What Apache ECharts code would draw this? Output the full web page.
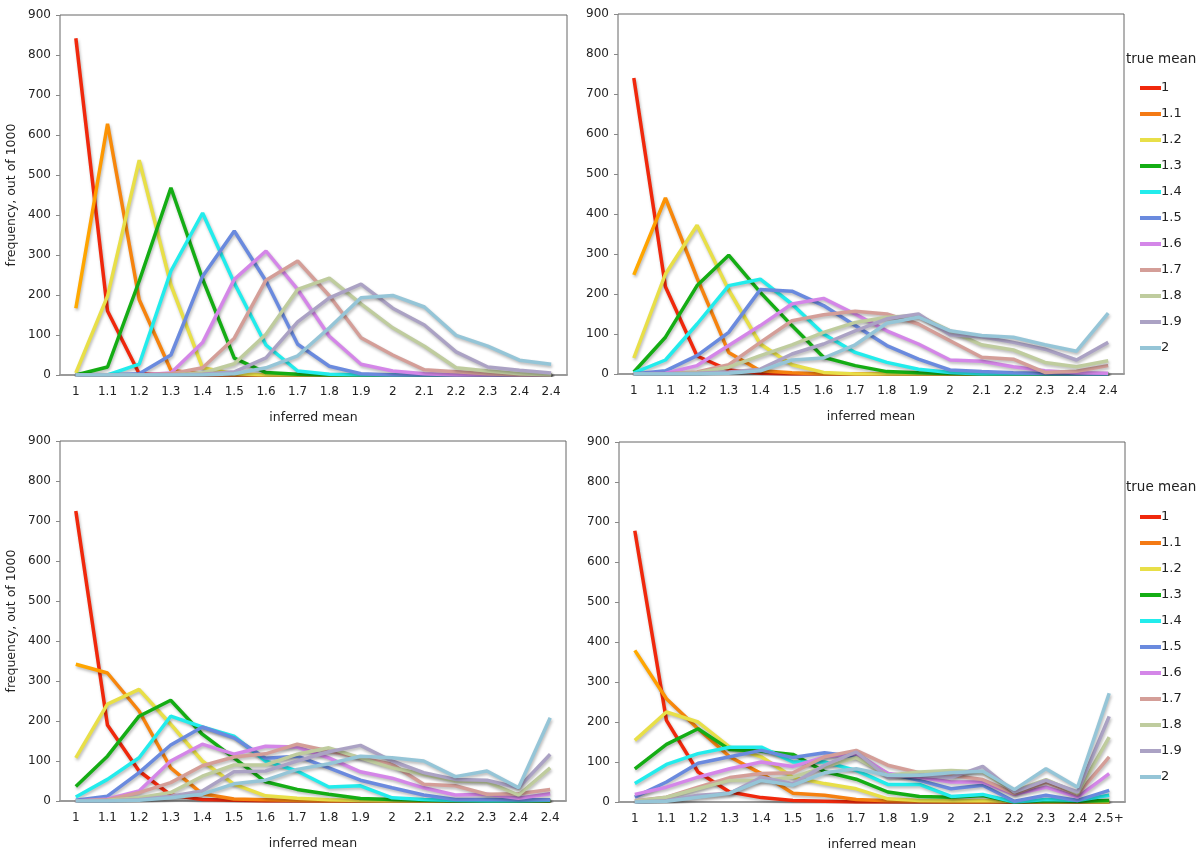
<!DOCTYPE html>
<html>
<head>
<meta charset="utf-8">
<script src="https://cdn.jsdelivr.net/npm/echarts@6/dist/echarts.min.js"></script>
<style>
html,body{margin:0;padding:0;background:#fff;}
#chart{width:1200px;height:856px;}
</style>
</head>
<body>
<div id="chart"></div>
<script>
// ---- data ----
const categoriesA = ['1','1.1','1.2','1.3','1.4','1.5','1.6','1.7','1.8','1.9','2','2.1','2.2','2.3','2.4','2.4'];
const categoriesB = ['1','1.1','1.2','1.3','1.4','1.5','1.6','1.7','1.8','1.9','2','2.1','2.2','2.3','2.4','2.5+'];
const trueMeans = ['1','1.1','1.2','1.3','1.4','1.5','1.6','1.7','1.8','1.9','2'];
const yTicks = [0,100,200,300,400,500,600,700,800,900];

const topLeft = [
[842,160,3,0,0,0,0,0,0,0,0,0,0,0,0,0],
[167,628,188,12,2,0,0,0,0,0,0,0,0,0,0,0],
[5,197,537,225,18,3,0,0,0,0,0,0,0,0,0,0],
[0,20,235,468,240,42,6,2,0,0,0,0,0,0,0,0],
[0,0,27,260,405,230,75,10,2,0,0,0,0,0,0,0],
[0,0,3,50,247,360,235,77,22,3,0,0,0,0,0,0],
[0,0,0,5,81,239,310,214,97,27,10,3,0,0,0,0],
[0,0,0,3,18,92,237,285,198,93,50,13,8,3,0,0],
[0,0,0,0,5,28,102,214,242,178,118,72,18,10,3,0],
[0,0,0,0,2,8,43,133,193,227,167,125,58,20,12,5],
[0,0,0,0,0,3,18,48,118,193,199,170,99,72,37,27]
];
const topRight = [
[740,218,45,10,2,0,0,0,0,0,0,0,0,0,0,0],
[248,440,240,54,8,3,0,0,0,0,0,0,0,0,0,0],
[40,250,372,210,75,23,4,0,0,0,0,0,0,0,0,0],
[5,92,221,297,204,121,42,21,6,3,1,0,0,0,0,0],
[3,35,125,221,237,175,100,54,29,12,4,0,0,0,0,0],
[0,8,46,104,211,207,171,121,71,37,10,6,3,1,0,0],
[0,2,21,71,121,175,189,150,108,75,35,32,18,8,3,2],
[0,0,5,23,79,133,148,157,150,125,83,42,37,4,7,21],
[0,0,3,17,46,73,104,129,142,146,108,73,60,29,18,33],
[0,0,2,5,12,50,75,108,138,150,98,93,79,62,35,79],
[0,0,0,2,8,35,40,73,127,142,108,96,92,73,57,152]
];
const bottomLeft = [
[725,190,75,15,4,2,0,0,0,0,0,0,0,0,0,0],
[342,320,225,83,18,5,3,1,0,0,0,0,0,0,0,0],
[108,242,279,192,100,42,13,7,3,1,0,0,0,0,0,0],
[36,112,212,252,167,108,48,29,17,6,4,2,0,0,0,0],
[10,54,108,212,185,162,100,75,35,38,8,4,1,0,0,2],
[2,12,71,140,185,158,107,112,83,52,33,15,4,4,3,3],
[0,5,25,100,142,117,137,135,108,73,57,33,15,17,7,18],
[0,3,21,46,88,110,118,142,125,108,92,42,38,17,18,29],
[0,2,8,21,62,90,90,117,133,108,83,67,50,48,15,83],
[0,0,3,12,25,73,75,100,123,139,100,71,54,52,33,117],
[0,0,2,8,17,43,52,79,93,112,108,100,61,75,33,208]
];
const bottomRight = [
[678,204,75,25,11,4,2,0,0,0,0,0,0,0,0,0],
[379,258,183,113,71,22,17,6,3,2,0,0,0,0,0,0],
[154,225,200,137,113,62,46,33,8,4,3,4,1,0,0,0],
[83,144,183,131,127,119,76,57,25,14,12,16,0,3,2,4],
[46,94,121,137,137,100,100,79,44,44,14,19,0,6,4,17],
[12,50,97,113,129,111,123,113,71,54,33,42,2,17,4,29],
[19,37,62,83,100,89,113,121,71,62,50,50,19,37,12,71],
[3,12,37,61,71,73,113,129,92,73,67,56,21,50,19,113],
[2,12,33,54,54,62,88,111,67,75,79,75,27,56,22,162],
[0,3,17,22,62,46,92,125,62,67,61,89,25,54,25,214],
[0,2,12,22,54,42,73,83,67,67,73,77,31,83,37,272]
];

// ---- styles ----
const colors = ['#f0280c','#f47a14','#e8df48','#14ad14','#22ecec','#6a8ade','#d486e8','#d49e98','#bfcc9e','#aba2c4','#95c5d7'];
const FONT = 'DejaVu Sans';
const panels = [
  {data: topLeft, cats: categoriesA, grid: {left:60, top:15, width:507, height:360}, yName: true},
  {data: topRight, cats: categoriesA, grid: {left:618, top:14, width:506, height:360}, yName: false},
  {data: bottomLeft, cats: categoriesA, grid: {left:60, top:441, width:506, height:360}, yName: true},
  {data: bottomRight, cats: categoriesB, grid: {left:619, top:442, width:506, height:360}, yName: false}
];

const chart = echarts.init(document.getElementById('chart'), null, {renderer:'canvas'});

const grid = [], xAxis = [], yAxis = [], series = [];
panels.forEach((p, i) => {
  grid.push(Object.assign({show:true, borderColor:'#666', borderWidth:1, containLabel:false}, p.grid));
  xAxis.push({
    type:'category', gridIndex:i, data:p.cats, boundaryGap:true,
    axisLine:{show:true, lineStyle:{color:'#9a9a9a', width:2}},
    axisTick:{show:false},
    axisLabel:{interval:0, color:'#222', fontFamily:FONT, fontSize:12, margin:11},
    splitLine:{show:false},
    name:'inferred mean', nameLocation:'middle', nameGap:36,
    nameTextStyle:{color:'#222', fontFamily:FONT, fontSize:12.5}
  });
  yAxis.push({
    type:'value', gridIndex:i, min:yTicks[0], max:yTicks[yTicks.length-1], interval:100,
    axisLine:{show:false},
    axisTick:{show:true, length:4, lineStyle:{color:'#888'}},
    axisLabel:{color:'#222', fontFamily:FONT, fontSize:12, margin:9},
    splitLine:{show:false},
    name: p.yName ? 'frequency, out of 1000' : '',
    nameLocation:'middle', nameGap:42, nameRotate:90,
    nameTextStyle:{color:'#222', fontFamily:FONT, fontSize:12.5}
  });
  p.data.forEach((vals, k) => {
    let lineColor = colors[k];
    if (k === 1) {
      lineColor = new echarts.graphic.LinearGradient(0,0,1,0,[
        {offset:0, color:'#ffac00'},
        {offset:0.055, color:'#ff9c00'},
        {offset:0.09, color:'#f6840e'},
        {offset:1, color:'#f47a14'}
      ]);
    }
    series.push({
      type:'line', name:trueMeans[k], xAxisIndex:i, yAxisIndex:i,
      data: vals, showSymbol:false, symbol:'none', silent:true,
      itemStyle:{color:colors[k]},
      lineStyle:{color:lineColor, width:3.5, shadowColor:'rgba(0,0,0,0.28)', shadowBlur:3, shadowOffsetX:1, shadowOffsetY:2},
      z: 2 + k
    });
  });
});

const legendBase = {
  orient:'vertical', left:1140, padding:0, icon:'rect', itemWidth:21, itemHeight:4, itemGap:10,
  textStyle:{color:'#222', fontFamily:FONT, fontSize:13, lineHeight:16, padding:[0,0,0,-5]},
  selectedMode:false,
  data: trueMeans.map((n,k)=>({name:n, itemStyle:{color:colors[k]}}))
};

const option = {
  animation:false,
  backgroundColor:'#fff',
  title:[
    {text:'true mean', left:1126, top:52, padding:0, textStyle:{color:'#222', fontFamily:FONT, fontSize:13.5, fontWeight:'normal'}},
    {text:'true mean', left:1126, top:480, padding:0, textStyle:{color:'#222', fontFamily:FONT, fontSize:13.5, fontWeight:'normal'}}
  ],
  legend:[
    Object.assign({}, legendBase, {top:80}),
    Object.assign({}, legendBase, {top:509})
  ],
  grid, xAxis, yAxis, series
};
chart.setOption(option);
</script>
</body>
</html>
